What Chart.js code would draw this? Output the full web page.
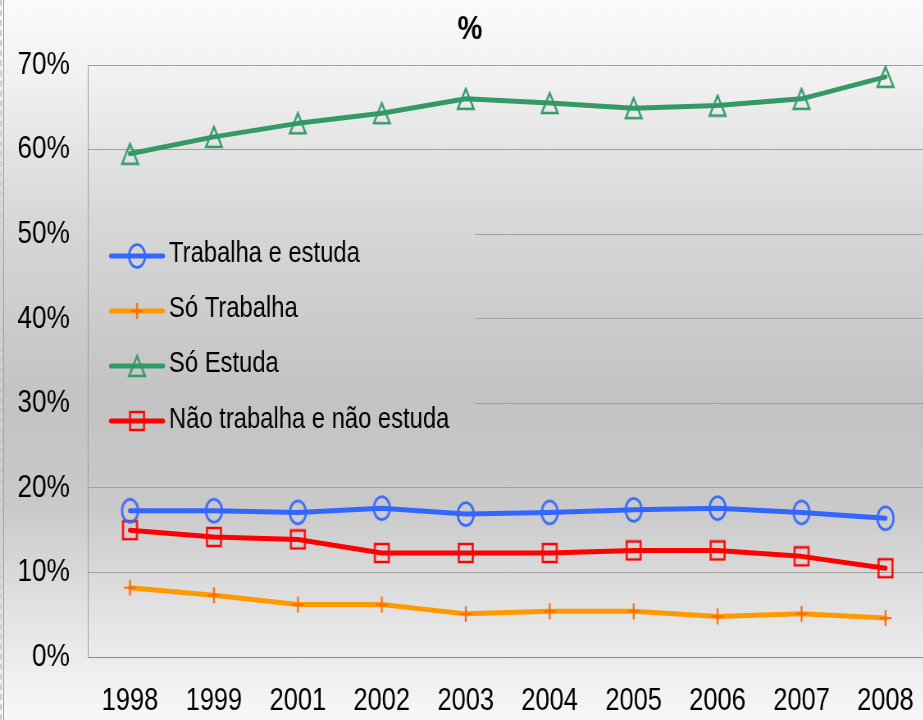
<!DOCTYPE html>
<html>
<head>
<meta charset="utf-8">
<script src="https://cdn.jsdelivr.net/npm/chart.js@4"></script>
<style>
  html, body { margin: 0; padding: 0; overflow: hidden; width: 923px; height: 720px; background: #f5f5f5; }
  #wrap { position: relative; width: 923px; height: 720px; overflow: hidden; }
  canvas { position: absolute; left: 0; top: 0; transform: scaleX(0.82); transform-origin: 0 0; }
  #edge { position: absolute; left: 0; top: 0; width: 4px; height: 720px; border-left: 2px dashed #d0d0d0; border-right: 1px solid #a8a8a8; box-sizing: border-box; }
</style>
</head>
<body>
<div id="wrap">
  <canvas id="c" width="1146" height="720"></canvas>
  <div id="edge"></div>
</div>
<script>
const categories = ['1998','1999','2001','2002','2003','2004','2005','2006','2007','2008'];
const trabalhaEstuda = [17.3, 17.3, 17.1, 17.6, 16.9, 17.1, 17.4, 17.6, 17.1, 16.4];
const soTrabalha = [8.2, 7.3, 6.2, 6.2, 5.1, 5.4, 5.4, 4.8, 5.1, 4.6];
const soEstuda = [59.5, 61.5, 63.1, 64.3, 66.0, 65.5, 64.9, 65.2, 66.0, 68.6];
const naoTrabalhaNaoEstuda = [15.0, 14.2, 13.9, 12.3, 12.3, 12.3, 12.6, 12.6, 11.9, 10.5];
const seriesNames = ['Trabalha e estuda', 'Só Trabalha', 'Só Estuda', 'Não trabalha e não estuda'];
const yTicks = [0, 10, 20, 30, 40, 50, 60, 70];

// Horizontal compression applied to the canvas (narrow font look)
const S = 0.82;
const FONT = "'Liberation Sans', Arial, sans-serif";
const PAD = 14.3;

function makeImg(w, h, fn) {
  const cv = document.createElement('canvas');
  cv.width = Math.ceil(w); cv.height = Math.ceil(h);
  fn(cv.getContext('2d'), cv.width, cv.height);
  return cv;
}
const imgCircle = makeImg(24, 28, (g, w, h) => {
  g.strokeStyle = '#3366ff'; g.lineWidth = 2.5;
  g.beginPath(); g.ellipse(w/2, h/2, 8/S, 11.5, 0, 0, Math.PI*2); g.stroke();
});
const imgCross = makeImg(18, 20, (g, w, h) => {
  g.strokeStyle = '#ff6a00'; g.lineWidth = 2.2;
  g.beginPath(); g.moveTo(w/2 - 7.3, h/2); g.lineTo(w/2 + 7.3, h/2);
  g.moveTo(w/2, 2); g.lineTo(w/2, h-2); g.stroke();
});
const imgTri = makeImg(24, 24, (g, w, h) => {
  g.strokeStyle = '#339966'; g.lineWidth = 2.4;
  const hw = 8/S;
  g.beginPath(); g.moveTo(w/2, 2); g.lineTo(w/2 + hw, h-2); g.lineTo(w/2 - hw, h-2); g.closePath(); g.stroke();
});
const imgSq = makeImg(22, 22, (g, w, h) => {
  g.strokeStyle = '#ff0000'; g.lineWidth = 2.4;
  const hw = 7/S;
  g.strokeRect(w/2 - hw, 2, 2*hw, h-4);
});

const colors = ['#3366ff', '#ff9900', '#339966', '#ff0000'];
const imgs = [imgCircle, imgCross, imgTri, imgSq];

function bgGradient(ctx) {
  const g = ctx.createLinearGradient(0, 0, 0, 720);
  g.addColorStop(0, '#fbfbfb');
  g.addColorStop(0.1, '#f2f2f2');
  g.addColorStop(0.3, '#d8d8d8');
  g.addColorStop(0.55, '#c3c3c3');
  g.addColorStop(0.7, '#c9c9c9');
  g.addColorStop(0.86, '#e4e4e4');
  g.addColorStop(1, '#f8f8f8');
  return g;
}

const bgPlugin = {
  id: 'bg',
  beforeDraw(chart) {
    const ctx = chart.ctx;
    ctx.save();
    ctx.fillStyle = bgGradient(ctx);
    ctx.fillRect(0, 0, chart.width, chart.height);
    ctx.restore();
  }
};

const legendPlugin = {
  id: 'innerLegend',
  beforeDatasetsDraw(chart) {
    const ctx = chart.ctx;
    ctx.save();
    ctx.fillStyle = bgGradient(ctx);
    const l = chart.chartArea.left + 1;
    ctx.fillRect(l, 222, 475 / S - l, 212);
    const lineYs = [256, 311, 366, 421];
    const textYs = [254, 309, 364, 420];
    for (let i = 0; i < seriesNames.length; i++) {
      ctx.strokeStyle = colors[i];
      ctx.lineWidth = 5;
      ctx.lineCap = 'round';
      ctx.beginPath();
      ctx.moveTo(111 / S, lineYs[i]);
      ctx.lineTo(163 / S, lineYs[i]);
      ctx.stroke();
      const im = imgs[i];
      ctx.drawImage(im, 137 / S - im.width/2, lineYs[i] - im.height/2);
      ctx.fillStyle = '#000';
      ctx.font = '29px ' + FONT;
      ctx.textBaseline = 'middle';
      ctx.textAlign = 'left';
      ctx.fillText(seriesNames[i], 169 / S, textYs[i]);
    }
    ctx.restore();
  }
};

const values = [trabalhaEstuda, soTrabalha, soEstuda, naoTrabalhaNaoEstuda];

new Chart(document.getElementById('c'), {
  type: 'line',
  data: {
    labels: categories,
    datasets: values.map((v, i) => ({
      label: seriesNames[i],
      data: v,
      borderColor: colors[i],
      borderWidth: 5,
      pointStyle: imgs[i],
      pointRadius: 10,
      pointHoverRadius: 10,
      fill: false,
      tension: 0,
      borderCapStyle: 'round',
      borderJoinStyle: 'round'
    }))
  },
  options: {
    responsive: false,
    animation: false,
    events: [],
    layout: { padding: { left: PAD, right: PAD, top: 0, bottom: 0 } },
    plugins: {
      legend: { display: false },
      tooltip: { enabled: false },
      title: {
        display: true,
        text: '%',
        color: '#000',
        font: { family: FONT, size: 34, weight: 'bold', lineHeight: 1.2 },
        padding: { top: 9, bottom: 15.2 }
      }
    },
    scales: {
      x: {
        type: 'category',
        offset: true,
        grid: { display: false, drawTicks: false },
        border: { display: true, color: '#8a8a8a', width: 1 },
        ticks: { color: '#000', font: { family: FONT, size: 31 }, padding: 26, maxRotation: 0, autoSkip: false },
        afterFit(s) { s.height = 63; s.paddingLeft = 0; s.paddingRight = 0; }
      },
      y: {
        min: 0, max: 70,
        afterBuildTicks(s) { s.ticks = yTicks.map(v => ({ value: v })); },
        grid: { color: '#a0a0a0', lineWidth: 1, drawTicks: false },
        border: { display: true, color: '#a0a0a0', width: 1 },
        ticks: { color: '#000', font: { family: FONT, size: 32 }, padding: 22, callback: v => v + '%' },
        afterFit(s) { s.width = 88 / S - PAD; s.paddingTop = 0; s.paddingBottom = 0; }
      }
    }
  },
  plugins: [bgPlugin, legendPlugin]
});
</script>
</body>
</html>
